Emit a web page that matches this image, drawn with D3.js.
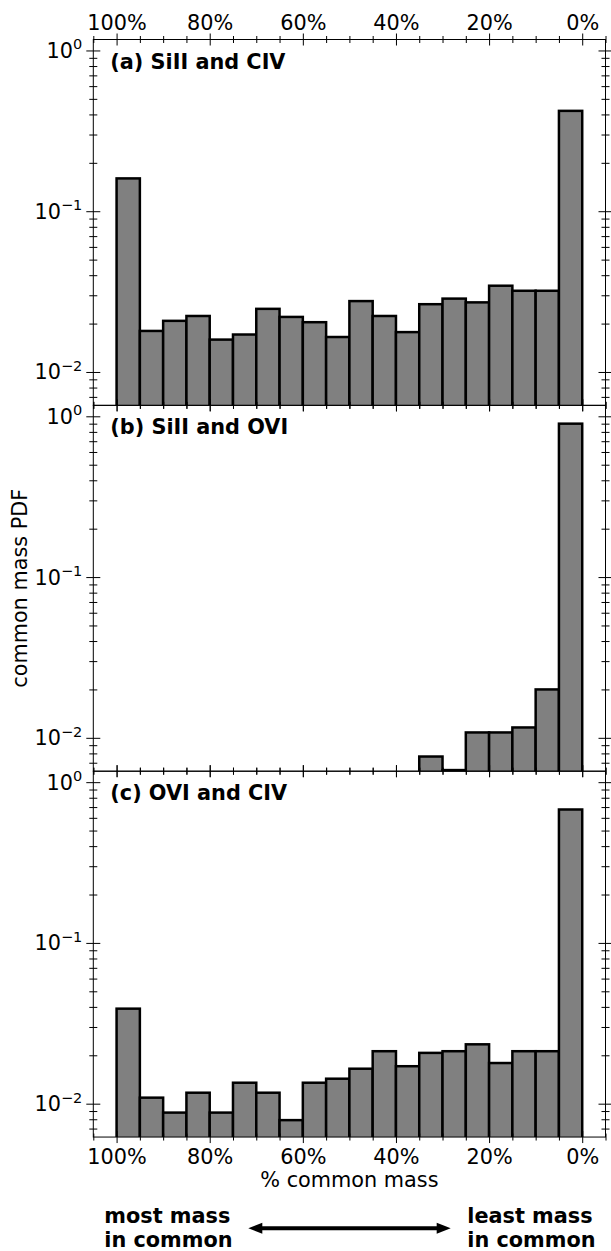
<!DOCTYPE html>
<html lang="en">
<head>
<meta charset="UTF-8">
<title>common mass PDF</title>
<style>
  body { margin: 0; background: #fff; }
  svg { display: block; font-family: "DejaVu Sans", sans-serif; }
</style>
</head>
<body>
<div id="chart"></div>
<script src="https://cdn.jsdelivr.net/npm/d3@7"></script>
<script>

// left edge of each 5% bin (% common mass)
const binStart = [100, 95, 90, 85, 80, 75, 70, 65, 60, 55, 50, 45, 40, 35, 30, 25, 20, 15, 10, 5];
const binWidth = 5;

// PDF values per bin, one array per panel (0 = empty bin)
const siiCiv = [0.160, 0.0180, 0.0208, 0.0223, 0.0159, 0.0171, 0.0247, 0.0220, 0.0204, 0.0165,
                0.0276, 0.0223, 0.0177, 0.0264, 0.0286, 0.0271, 0.0344, 0.0320, 0.0320, 0.421];
const siiOvi = [0, 0, 0, 0, 0, 0, 0, 0, 0, 0,
                0, 0, 0, 0.00765, 0.0063, 0.0108, 0.0108, 0.0116, 0.0200, 0.90];
const oviCiv = [0.039, 0.0109, 0.0088, 0.0117, 0.0088, 0.0135, 0.0117, 0.0079, 0.0135, 0.0143,
                0.0165, 0.0212, 0.0171, 0.0207, 0.0212, 0.0234, 0.0179, 0.0212, 0.0212, 0.676];

const panelTitles = ["(a) SiII and CIV", "(b) SiII and OVI", "(c) OVI and CIV"];
const panelData = [siiCiv, siiOvi, oviCiv];

// ticks
const xMajor = [100, 80, 60, 40, 20, 0];
const xMinor = [105, 95, 90, 85, 75, 70, 65, 55, 50, 45, 35, 30, 25, 15, 10, 5, -5];
const yMajor = [1, 0.1, 0.01];
const yExponent = ["0", "\u22121", "\u22122"];
const yMinor = [0.9, 0.8, 0.7, 0.6, 0.5, 0.4, 0.3, 0.2,
                0.09, 0.08, 0.07, 0.06, 0.05, 0.04, 0.03, 0.02,
                0.009, 0.008, 0.007];

// layout
const W = 611, H = 1251;
const xLeft = 93.3, xRight = 605.5, plotTop = 39.5, panelH = 365.85;
const fs = 20.8;

const svg = d3.select("#chart").append("svg")
  .attr("width", W)
  .attr("height", H);

const x = d3.scaleLinear().domain([105, -5]).range([xLeft, xRight]);
const y = d3.scaleLog().domain([0.0062, 1.17]).range([panelH, 0]);

// make d3 ticks cross the spine (matplotlib "inout")
function inout(g, axis) {
  g.selectAll(".tick line").each(function() {
    const l = d3.select(this);
    if (axis === "x") l.attr("y1", -(+l.attr("y2")));
    else l.attr("x1", -(+l.attr("x2")));
  });
  g.select(".domain").remove();
  g.selectAll(".tick line").attr("stroke", "#000").attr("stroke-width", 1);
}

panelData.forEach(function(vals, p) {
  const g = svg.append("g")
    .attr("transform", `translate(0, ${plotTop + p * panelH})`);

  g.append("clipPath").attr("id", "clip" + p)
    .append("rect")
      .attr("x", xLeft).attr("y", 0)
      .attr("width", xRight - xLeft).attr("height", panelH);

  // bars
  g.append("g")
    .attr("clip-path", `url(#clip${p})`)
    .selectAll("rect")
    .data(binStart.map((b, i) => ({b: b, v: vals[i]})).filter(d => d.v > 0))
    .join("rect")
      .attr("x", d => x(d.b))
      .attr("width", d => x(d.b - binWidth) - x(d.b))
      .attr("y", d => y(d.v))
      .attr("height", d => panelH + 6 - y(d.v))
      .attr("fill", "#808080")
      .attr("stroke", "#000")
      .attr("stroke-width", 2.5);

  // x ticks, top and bottom
  const xTopMaj = g.append("g").call(d3.axisTop(x).tickValues(xMajor).tickSize(6).tickSizeOuter(0)
    .tickFormat(p === 0 ? d => d + "%" : ""));
  inout(xTopMaj, "x");
  const xTopMin = g.append("g").call(d3.axisTop(x).tickValues(xMinor).tickSize(3.5).tickSizeOuter(0).tickFormat(""));
  inout(xTopMin, "x");
  const xBotMaj = g.append("g").attr("transform", `translate(0, ${panelH})`)
    .call(d3.axisBottom(x).tickValues(xMajor).tickSize(6).tickSizeOuter(0)
    .tickFormat(p === 2 ? d => d + "%" : ""));
  inout(xBotMaj, "x");
  const xBotMin = g.append("g").attr("transform", `translate(0, ${panelH})`)
    .call(d3.axisBottom(x).tickValues(xMinor).tickSize(3.5).tickSizeOuter(0).tickFormat(""));
  inout(xBotMin, "x");

  [xTopMaj, xBotMaj].forEach(a => a.selectAll(".tick text")
    .attr("font-family", "DejaVu Sans").attr("font-size", fs).attr("fill", "#000"));
  xTopMaj.selectAll(".tick text").attr("y", -9.5).attr("dy", null);
  xBotMaj.selectAll(".tick text").attr("y", 27).attr("dy", null);

  // y ticks, left and right
  const yLeftMaj = g.append("g").attr("transform", `translate(${xLeft}, 0)`)
    .call(d3.axisLeft(y).tickValues(yMajor).tickSize(7).tickSizeOuter(0).tickFormat(""));
  inout(yLeftMaj, "y");
  const yLeftMin = g.append("g").attr("transform", `translate(${xLeft}, 0)`)
    .call(d3.axisLeft(y).tickValues(yMinor).tickSize(4).tickSizeOuter(0).tickFormat(""));
  inout(yLeftMin, "y");
  const yRightMaj = g.append("g").attr("transform", `translate(${xRight}, 0)`)
    .call(d3.axisRight(y).tickValues(yMajor).tickSize(7).tickSizeOuter(0).tickFormat(""));
  inout(yRightMaj, "y");
  const yRightMin = g.append("g").attr("transform", `translate(${xRight}, 0)`)
    .call(d3.axisRight(y).tickValues(yMinor).tickSize(4).tickSizeOuter(0).tickFormat(""));
  inout(yRightMin, "y");

  // log labels 10^n
  yLeftMaj.selectAll(".tick text").each(function(d, i) {
    const t = d3.select(this)
      .attr("x", -11).attr("y", 7).attr("dy", null)
      .attr("text-anchor", "end")
      .attr("font-family", "DejaVu Sans")
      .attr("fill", "#000");
    t.append("tspan").attr("font-size", fs).text("10");
    t.append("tspan").attr("font-size", 14.5).attr("dy", -8.5).text(yExponent[i]);
  });

  // frame
  g.append("rect")
    .attr("x", xLeft).attr("y", 0)
    .attr("width", xRight - xLeft).attr("height", panelH)
    .attr("fill", "none").attr("stroke", "#000").attr("stroke-width", 1);

  g.append("text")
    .attr("x", xLeft + 17).attr("y", 29)
    .attr("font-size", fs).attr("font-weight", "bold")
    .text(panelTitles[p]);
});

// axis titles
svg.append("text")
  .attr("transform", `translate(27, ${plotTop + 1.5 * panelH}) rotate(-90)`)
  .attr("text-anchor", "middle")
  .attr("font-size", fs)
  .text("common mass PDF");

svg.append("text")
  .attr("x", (xLeft + xRight) / 2).attr("y", 1187)
  .attr("text-anchor", "middle")
  .attr("font-size", fs)
  .text("% common mass");

// bottom annotation
const note = svg.append("g").attr("font-size", fs).attr("font-weight", "bold");
note.append("text").attr("x", 104.3).attr("y", 1223).text("most mass");
note.append("text").attr("x", 104.3).attr("y", 1247).text("in common");
note.append("text").attr("x", 467.3).attr("y", 1223).text("least mass");
note.append("text").attr("x", 467.3).attr("y", 1247).text("in common");

const ay = 1228.3, ax0 = 248.3, ax1 = 450.7, headL = 14, headH = 5.5;
svg.append("line")
  .attr("x1", ax0 + headL - 1).attr("x2", ax1 - headL + 1)
  .attr("y1", ay).attr("y2", ay)
  .attr("stroke", "#000").attr("stroke-width", 4);
svg.append("path")
  .attr("d", `M${ax0},${ay} L${ax0 + headL},${ay - headH} L${ax0 + headL},${ay + headH} Z`)
  .attr("fill", "#000");
svg.append("path")
  .attr("d", `M${ax1},${ay} L${ax1 - headL},${ay - headH} L${ax1 - headL},${ay + headH} Z`)
  .attr("fill", "#000");

</script>
</body>
</html>
